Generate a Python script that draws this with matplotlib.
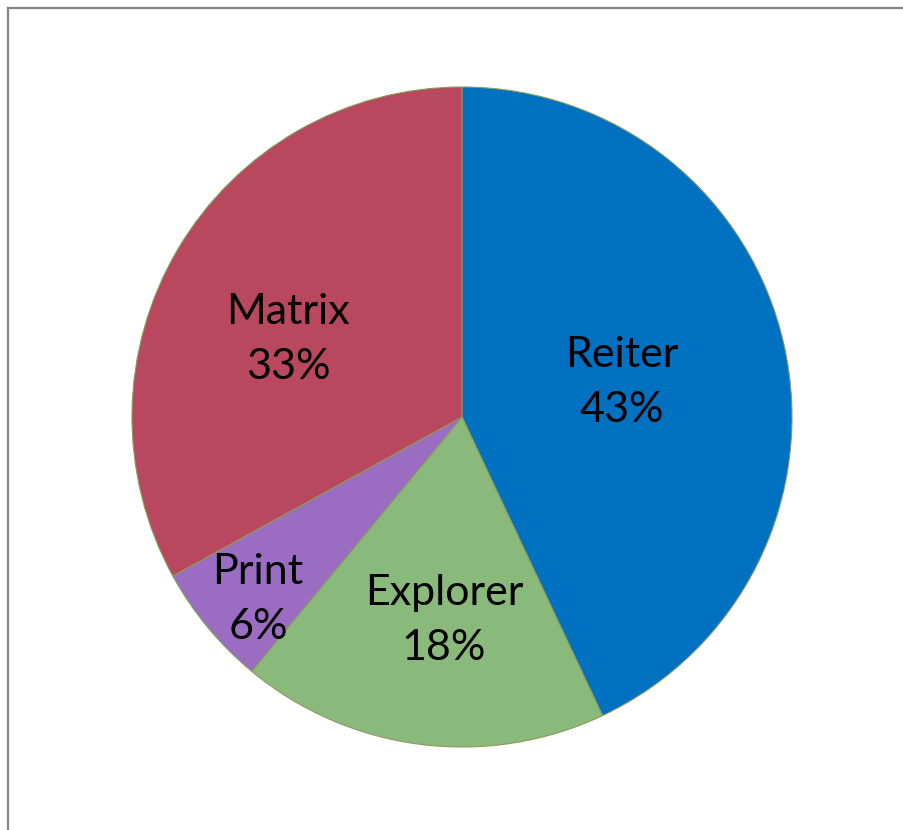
import matplotlib
matplotlib.use("Agg")
import matplotlib.pyplot as plt
from matplotlib.lines import Line2D

# Share of usage per component (clockwise from 12 o'clock)
categories = ["Reiter", "Explorer", "Print", "Matrix"]
shares = [43, 18, 6, 33]
colors = ["#0070C0", "#8ABA7B", "#9A6CC2", "#B9475D"]
# label centres relative to the pie centre, in units of the radius
label_pos = [(0.485, 0.105), (-0.055, -0.616), (-0.618, -0.552), (-0.527, 0.235)]

W, H = 904, 830
fig = plt.figure(figsize=(W / 100, H / 100), dpi=100)
fig.patch.set_facecolor("white")
ax = fig.add_axes([0, 0, 1, 1])

cx, cy, r = 462, H - 417, 330
wedges, _ = ax.pie(
    shares,
    colors=colors,
    startangle=90,
    counterclock=False,
    center=(cx, cy),
    radius=r,
    wedgeprops=dict(edgecolor="#8A9A5B", linewidth=0.8),
)
ax.set_xlim(0, W)
ax.set_ylim(0, H)
ax.set_aspect("equal")
ax.axis("off")

total = sum(shares)
for name, val, (px, py) in zip(categories, shares, label_pos):
    ax.text(cx + px * r, cy + py * r, f"{name}\n{round(100 * val / total)}%",
            ha="center", va="center", fontsize=31, family="Lato",
            linespacing=1.55, color="black")

# outer chart frame (left and top edges visible)
frame_kw = dict(color="#868686", linewidth=1.6, transform=fig.transFigure)
fig.add_artist(Line2D([8 / W, 8 / W], [0, 1 - 8 / H], **frame_kw))
fig.add_artist(Line2D([8 / W, 1], [1 - 8 / H, 1 - 8 / H], **frame_kw))

fig.savefig("out.png", dpi=100, facecolor="white")
